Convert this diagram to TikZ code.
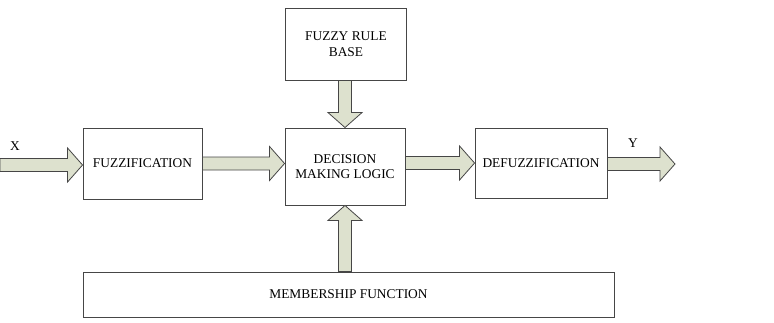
\documentclass[tikz,border=0pt]{standalone}
\usepackage{fontspec}
\setmainfont{Liberation Serif}
\usetikzlibrary{calc}
\definecolor{arrowfill}{RGB}{221,225,206}
\definecolor{edge}{RGB}{70,70,70}
\tikzset{
  blockbox/.style={draw=edge, line width=0.9pt, fill=white, align=center,
    font=\fontsize{13.4}{15.5}\selectfont, inner sep=0pt},
  fatarrow/.style={draw=edge, line width=0.8pt, fill=arrowfill, line join=miter},
  sig/.style={font=\fontsize{13.4}{15.5}\selectfont}
}
% fat arrow from #1 to tip #2
\newcommand\fatarrow[2]{%
  \path (#1) coordinate (s) (#2) coordinate (t) ($(t)!15pt!(s)$) coordinate (h);
  \draw[fatarrow] ($(s)!6.5pt!90:(t)$) -- ($(h)!6.5pt!90:(t)$) -- ($(h)!17pt!90:(t)$)
    -- (t) -- ($(h)!17pt!-90:(t)$) -- ($(h)!6.5pt!-90:(t)$) -- ($(s)!6.5pt!-90:(t)$) -- cycle;}
\begin{document}
\begin{tikzpicture}[x=1pt,y=-1pt]
\useasboundingbox (0,0) rectangle (774,322);
\node[blockbox, minimum width=121pt, minimum height=72pt] (rule) at (346,44) {FUZZY RULE\\BASE};
\node[blockbox, minimum width=119pt, minimum height=71pt] (fuzz) at (142.5,163.5) {FUZZIFICATION};
\node[blockbox, minimum width=120pt, minimum height=77pt] (logic) at (345,166.5) {DECISION\\MAKING LOGIC};
\node[blockbox, minimum width=132pt, minimum height=70pt] (defuzz) at (541,163) {DEFUZZIFICATION};
\node[blockbox, minimum width=531pt, minimum height=45pt] (member) at (348.5,294.5) {MEMBERSHIP FUNCTION};
\coordinate (in) at (0,165);
\coordinate (out) at (675,164);
\node[sig] (x) at (15,146) {X};
\node[sig] (y) at (633,143) {Y};
\fatarrow{in}{fuzz.west |- in}
\fatarrow{fuzz.east}{fuzz.east -| logic.west}
\fatarrow{logic.east |- defuzz.west}{defuzz.west}
\fatarrow{defuzz.east |- out}{out}
\fatarrow{logic.north |- rule.south}{logic.north}
\fatarrow{logic.south |- member.north}{logic.south}
\end{tikzpicture}
\end{document}
